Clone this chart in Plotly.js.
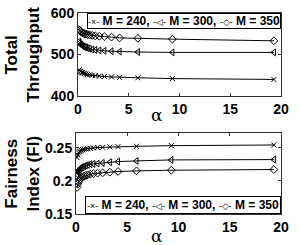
<!DOCTYPE html>
<html><head><meta charset="utf-8">
<script src="https://cdn.plot.ly/plotly-3.0.1.min.js"></script>
<style>html,body{margin:0;padding:0;background:#fff}#c{width:300px;height:245px}</style>
</head><body><div id="c"></div>
<script>
const alpha = [0.1,0.17,0.25,0.33,0.42,0.53,0.65,0.8,0.95,1.15,1.4,1.7,2.1,2.6,3.3,4.1,5.9,9.3,19.3];
const seriesNames = ['M = 240,','M = 300,','M = 350'];
const thr240 = [463,461,459,457,456,455,454,453,452,451,450,449,448,447,446,445,444,442,440];
const thr300 = [531,528,525,523,521,519,518,517,515,514,512,511,510,509,508,507,506,505,505];
const thr350 = [560,558,556,554,552,551,550,549,548,547,546,545,544,543,542,540,539,537,533];
const fi240 = [0.235,0.239,0.242,0.244,0.245,0.246,0.247,0.2475,0.248,0.2485,0.249,0.2495,0.25,0.2505,0.251,0.2515,0.252,0.253,0.254];
const fi300 = [0.210,0.213,0.215,0.217,0.219,0.220,0.221,0.222,0.223,0.224,0.225,0.2255,0.226,0.227,0.228,0.229,0.230,0.2315,0.232];
const fi350 = [0.190,0.195,0.198,0.201,0.203,0.205,0.206,0.207,0.208,0.209,0.210,0.211,0.2115,0.212,0.213,0.214,0.215,0.216,0.217];
const xTicks = [0,5,10,15,20];
const thrTicks = [400,500,600];
const fiTicks = [0.15,0.2,0.25];
const fiTickText = ['0.15','0.2','0.25'];

const symbols = ['x-thin-open','triangle-left-open','diamond-open'];
const legGlyphs = ['-×-','-◁-','-◇-'];
const sizes = [5,6,6];
function tr(y, i, ax){
  return {x: alpha, y: y, type:'scatter', mode:'lines+markers', name: seriesNames[i], showlegend:false,
    xaxis: ax==1?'x':'x2', yaxis: ax==1?'y':'y2',
    line:{color:'#000', width:1},
    marker:{symbol:symbols[i], size:sizes[i], color:'#000', line:{color:'#000', width:1}}};
}
const data = [tr(thr240,0,1),tr(thr300,1,1),tr(thr350,2,1),tr(fi240,0,2),tr(fi300,1,2),tr(fi350,2,2)];
const bf = 'Liberation Sans, Arial, sans-serif';
const tf = {family:bf, size:14, color:'#000', weight:'bold'};
const axBase = {showline:true, mirror:'ticks', linecolor:'#333', linewidth:1, ticks:'inside', ticklen:3, tickcolor:'#333',
  showgrid:false, zeroline:false, tickfont:tf};
const legText = seriesNames.map((n,i)=>'<span style="font-weight:normal;font-size:9px">'+legGlyphs[i]+'</span> '+n).join(' ');
const layout = {
  width:300, height:245, margin:{l:0,r:0,t:0,b:0}, paper_bgcolor:'#fff', plot_bgcolor:'#fff', showlegend:false,
  xaxis: Object.assign({}, axBase, {domain:[0.26,0.9367], range:[0,20], tickvals:xTicks, anchor:'y'}),
  yaxis: Object.assign({}, axBase, {domain:[0.608,0.947], range:[400,600], tickvals:thrTicks, anchor:'x'}),
  xaxis2: Object.assign({}, axBase, {domain:[0.2533,0.9367], range:[0,20], tickvals:xTicks, anchor:'y2'}),
  yaxis2: Object.assign({}, axBase, {domain:[0.1265,0.457], range:[0.15,0.272], tickvals:fiTicks, ticktext:fiTickText, anchor:'x2'}),
  annotations:[
    {text:'<b>Total</b><br><b>Throughput</b>', xref:'paper', yref:'paper', x:22/300, y:1-54.5/245, textangle:-90, showarrow:false,
     font:{family:bf, size:17, color:'#000'}, xanchor:'center', yanchor:'middle'},
    {text:'<b>Fairness</b><br><b>Index (FI)</b>', xref:'paper', yref:'paper', x:22/300, y:1-173.5/245, textangle:-90, showarrow:false,
     font:{family:bf, size:17, color:'#000'}, xanchor:'center', yanchor:'middle'},
    {text:'α', xref:'paper', yref:'paper', x:157/300, y:1-115/245, showarrow:false, font:{family:'DejaVu Serif, serif', size:17, color:'#000'}, xanchor:'center', yanchor:'middle'},
    {text:'α', xref:'paper', yref:'paper', x:157/300, y:1-236/245, showarrow:false, font:{family:'DejaVu Serif, serif', size:17, color:'#000'}, xanchor:'center', yanchor:'middle'},
    {text:legText, xref:'x domain', yref:'y domain', x:1, y:1, xanchor:'right', yanchor:'top', showarrow:false,
     font:{family:bf, size:12, color:'#000', weight:'bold'}, bordercolor:'#000', borderwidth:1, borderpad:0, bgcolor:'#fff'},
    {text:legText, xref:'x2 domain', yref:'y2 domain', x:1, y:0, xanchor:'right', yanchor:'bottom', showarrow:false,
     font:{family:bf, size:12, color:'#000', weight:'bold'}, bordercolor:'#000', borderwidth:1, borderpad:1, bgcolor:'#fff'}
  ]
};
Plotly.newPlot('c', data, layout, {staticPlot:true, displayModeBar:false});
</script></body></html>
